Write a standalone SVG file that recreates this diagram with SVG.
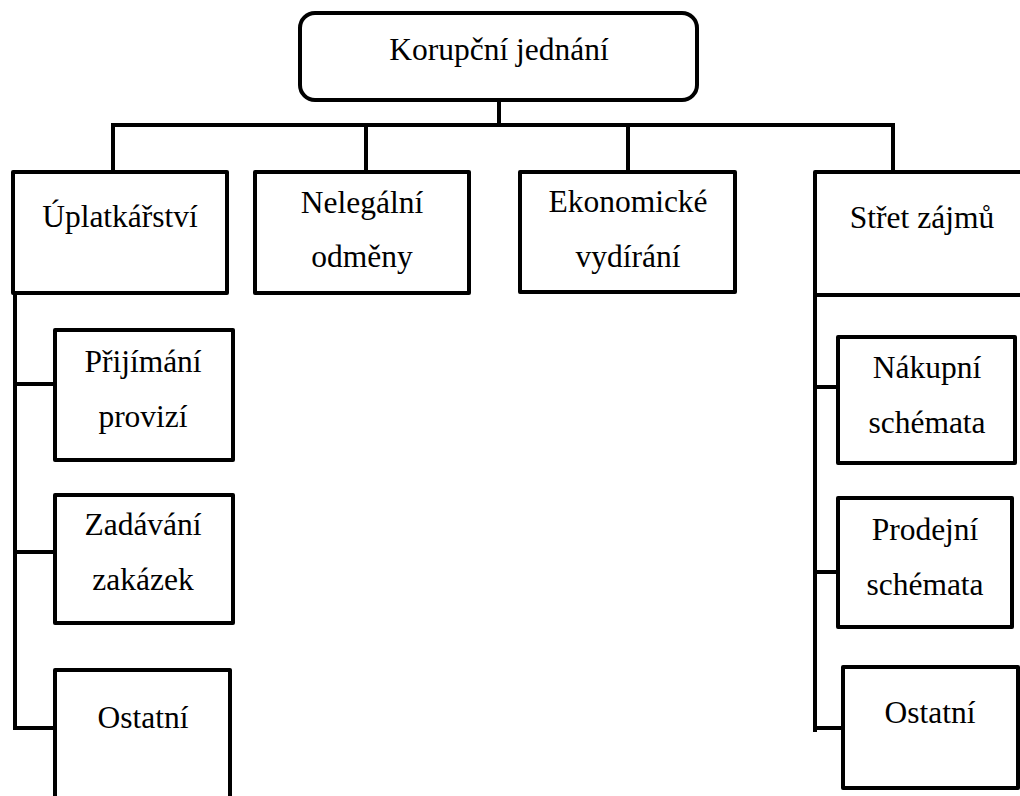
<svg xmlns="http://www.w3.org/2000/svg" width="1020" height="796" viewBox="0 0 1020 796">
<style>
.box{fill:#fff;stroke:#000;stroke-width:4;stroke-linejoin:round}
.lbl{font-size:31.5px;fill:#000;text-anchor:middle}
.conn{fill:none;stroke:#000;stroke-width:4;stroke-linecap:square}
</style>
<rect width="1020" height="796" fill="#fff"/>
<g id="connectors" class="conn">
<path d="M499 92V125M113 125H893M113 125V172M366 125V172M628 125V172M893 125V172"/>
<path d="M15 293V728M15 384H55M15 552H55M15 728H55"/>
<path d="M815 295V730M815 387H838M815 572H838M815 728H843"/>
</g>
<g font-family="Liberation Serif, Times New Roman, serif">
<g id="n-root"><rect class="box" x="300" y="13" width="397" height="87" rx="15"/><text class="lbl" x="499" y="60">Korupční jednání</text></g>
<g id="n-uplat"><rect class="box" x="13" y="172" width="214" height="121"/><text class="lbl" x="120" y="227">Úplatkářství</text></g>
<g id="n-neleg"><rect class="box" x="255" y="172" width="214" height="121"/><text class="lbl" x="362" y="213">Nelegální</text><text class="lbl" x="362" y="267">odměny</text></g>
<g id="n-ekon"><rect class="box" x="520" y="172" width="215" height="120"/><text class="lbl" x="628" y="212">Ekonomické</text><text class="lbl" x="628" y="267">vydírání</text></g>
<g id="n-stret"><rect class="box" x="815" y="172" width="220" height="123"/><text class="lbl" x="922" y="228">Střet zájmů</text></g>
<g id="n-prij"><rect class="box" x="55" y="330" width="178" height="130"/><text class="lbl" x="143" y="372">Přijímání</text><text class="lbl" x="143" y="427">provizí</text></g>
<g id="n-zadav"><rect class="box" x="55" y="495" width="178" height="128"/><text class="lbl" x="143" y="535">Zadávání</text><text class="lbl" x="143" y="590">zakázek</text></g>
<g id="n-ost1"><rect class="box" x="55" y="670" width="175" height="140"/><text class="lbl" x="143" y="728">Ostatní</text></g>
<g id="n-nakup"><rect class="box" x="838" y="337" width="177" height="126"/><text class="lbl" x="927" y="378">Nákupní</text><text class="lbl" x="927" y="433">schémata</text></g>
<g id="n-prodej"><rect class="box" x="838" y="498" width="174" height="129"/><text class="lbl" x="925" y="540">Prodejní</text><text class="lbl" x="925" y="595">schémata</text></g>
<g id="n-ost2"><rect class="box" x="843" y="667" width="175" height="121"/><text class="lbl" x="930" y="723">Ostatní</text></g>
</g>
</svg>
